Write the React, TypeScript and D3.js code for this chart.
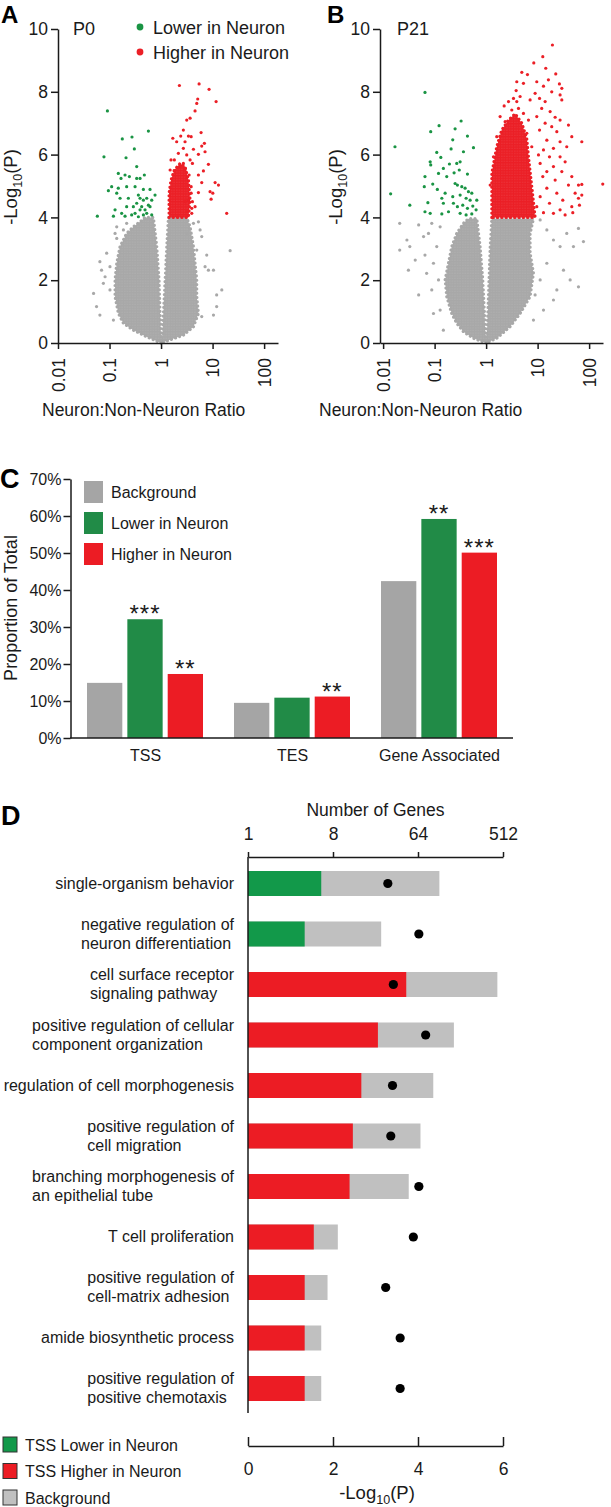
import React, { useEffect, useRef } from "react";
import * as d3 from "d3";

const FONT = "'Liberation Sans', Arial, Helvetica, sans-serif";

// ---------- Panels A / B : volcano plots ----------
const ratioTicks = [0.01, 0.1, 1, 10, 100];
const ratioTickLabels = ["0.01", "0.1", "1", "10", "100"];
const logPTicks = [0, 2, 4, 6, 8, 10];

// dense gray cloud outline (ratio, -log10 P)
const p0GrayCore: [number, number][] = [
  [1.0, 0], [0.527, 0.2], [0.29, 0.41], [0.186, 0.63], [0.149, 0.94], [0.128, 1.48], [0.128, 2.01],
  [0.138, 2.54], [0.16, 3.07], [0.215, 3.49], [0.29, 3.7], [0.391, 3.86], [0.489, 4.0], [0.71, 4.0],
  [0.824, 3.07], [0.914, 2.01], [0.956, 0.94], [1.0, 0.2], [1.06, 0.2], [1.11, 0.94], [1.2, 2.01],
  [1.29, 3.07], [1.39, 4.0], [3.15, 4.0], [3.66, 3.7], [4.25, 3.07], [4.57, 2.54], [4.93, 2.01],
  [4.93, 1.48], [5.31, 0.94], [4.25, 0.52], [2.72, 0.25], [1.5, 0.1],
];
const p0Gray: [number, number][] = [
  [0.065, 2.59], [0.056, 1.16], [0.049, 1.58], [0.065, 0.89], [0.088, 2.86], [0.102, 2.43], [0.07, 2.32],
  [0.119, 0.73], [0.128, 3.49], [0.138, 3.33], [0.186, 3.6], [0.2, 3.28], [0.102, 1.69], [0.076, 1.9],
  [0.082, 2.11], [5.72, 3.6], [6.16, 3.39], [4.93, 2.96], [7.7, 2.8], [8.3, 2.32], [10.4, 2.32],
  [21.9, 2.94], [15.1, 1.69], [12.0, 1.53], [12.0, 1.16], [10.4, 0.89], [6.16, 0.84], [7.15, 2.43],
  [4.25, 3.81], [5.31, 3.86], [3.15, 3.49], [0.138, 3.7], [0.215, 3.81],
];
const p0Green: [number, number][] = [
  [0.091, 7.39], [0.568, 6.75], [0.177, 6.5], [0.273, 6.56], [0.303, 6.18], [0.078, 5.93], [0.209, 5.9],
  [0.337, 5.62], [0.148, 5.4], [0.2, 5.35], [0.243, 5.3], [0.167, 5.24], [0.337, 5.24], [0.391, 5.24],
  [0.474, 5.35], [0.11, 4.98], [0.148, 4.93], [0.215, 4.98], [0.313, 4.98], [0.454, 4.89], [0.611, 4.89],
  [0.764, 4.71], [0.095, 4.85], [0.138, 4.77], [0.16, 4.61], [0.232, 4.61], [0.363, 4.71], [0.391, 4.61],
  [0.454, 4.55], [0.527, 4.61], [0.659, 4.55], [0.568, 4.39], [0.215, 4.34], [0.29, 4.34], [0.337, 4.45],
  [0.421, 4.34], [0.391, 4.24], [0.489, 4.24], [0.611, 4.34], [0.128, 4.24], [0.172, 4.13], [0.119, 4.04],
  [0.2, 4.04], [0.269, 4.08], [0.313, 4.13], [0.363, 4.02], [0.454, 4.08], [0.527, 4.13], [0.659, 4.08],
  [0.058, 4.04],
];
const p0RedCore: [number, number][] = [
  [1.43, 4.0], [1.43, 4.77], [1.56, 5.19], [1.81, 5.51], [2.34, 5.72], [2.92, 5.62], [3.4, 5.19],
  [3.66, 4.55], [3.4, 4.0],
];
const p0Red: [number, number][] = [
  [2.27, 8.2], [5.47, 8.25], [8.55, 8.08], [5.15, 7.77], [4.93, 7.63], [11.7, 7.69], [4.57, 7.39],
  [3.66, 7.16], [3.15, 7.1], [2.71, 6.78], [5.98, 6.7], [1.69, 6.52], [2.41, 6.59], [3.4, 6.59],
  [3.84, 6.57], [2.92, 6.41], [2.01, 6.41], [6.94, 6.36], [6.16, 6.27], [2.71, 6.2], [4.25, 6.17],
  [7.14, 6.09], [2.17, 6.04], [3.15, 5.99], [5.31, 6.01], [1.56, 5.83], [1.81, 5.83], [3.66, 5.83],
  [4.06, 5.72], [8.3, 5.69], [2.71, 5.72], [2.34, 5.62], [6.64, 5.48], [5.31, 5.35], [11.2, 5.11],
  [13.0, 5.03], [6.16, 5.11], [8.94, 4.82], [10.1, 4.77], [9.36, 4.58], [5.31, 4.79], [3.84, 4.77],
  [3.4, 4.55], [4.57, 4.34], [3.94, 4.29], [18.8, 4.13], [3.15, 4.18], [2.92, 4.5], [1.5, 5.51],
  [2.92, 5.51], [3.5, 5.35], [3.84, 4.98], [4.06, 4.5], [3.94, 4.13],
];

const p21GrayCore: [number, number][] = [
  [1.0, 0], [0.568, 0.15], [0.363, 0.36], [0.269, 0.63], [0.215, 0.94], [0.172, 1.48], [0.16, 2.01],
  [0.186, 2.54], [0.215, 3.07], [0.269, 3.49], [0.363, 3.81], [0.454, 3.96], [0.659, 3.96], [0.764, 3.07],
  [0.861, 2.01], [0.929, 0.94], [0.97, 0.2], [1.03, 0.2], [1.08, 0.94], [1.14, 2.01], [1.2, 3.07],
  [1.29, 3.96], [8.3, 3.96], [7.15, 3.49], [7.15, 2.86], [8.3, 2.22], [7.15, 1.48], [4.57, 0.94],
  [2.92, 0.52], [1.61, 0.15],
];
const p21Gray: [number, number][] = [
  [0.021, 3.81], [0.029, 3.28], [0.021, 2.96], [0.033, 3.07], [0.031, 2.32], [0.042, 2.64], [0.049, 3.76],
  [0.061, 3.39], [0.065, 2.8], [0.07, 2.22], [0.076, 3.49], [0.088, 1.69], [0.095, 2.54], [0.11, 3.07],
  [0.128, 1.05], [0.119, 2.01], [0.088, 3.81], [0.049, 1.53], [0.128, 3.7], [0.148, 0.41], [0.095, 0.94],
  [15.1, 3.6], [11.2, 3.92], [20.3, 3.28], [27.3, 3.07], [36.8, 3.49], [49.6, 3.07], [77.6, 3.23],
  [62.1, 3.65], [31.8, 2.32], [42.8, 2.01], [62.1, 1.79], [23.6, 1.69], [20.3, 1.37], [13.0, 1.05],
  [8.3, 0.73], [15.1, 2.54], [11.2, 2.01], [8.94, 1.53],
];
const p21Green: [number, number][] = [
  [0.065, 7.98], [0.017, 6.25], [0.014, 4.75], [0.033, 4.39], [0.084, 6.73], [0.122, 6.92], [0.327, 7.07],
  [0.25, 6.82], [0.225, 6.47], [0.434, 6.59], [0.11, 6.07], [0.132, 5.91], [0.209, 6.18], [0.363, 6.09],
  [0.568, 6.22], [0.082, 5.77], [0.084, 5.67], [0.148, 5.56], [0.194, 5.7], [0.269, 5.72], [0.313, 5.77],
  [0.119, 5.4], [0.172, 5.3], [0.239, 5.42], [0.301, 5.51], [0.434, 5.38], [0.065, 5.3], [0.063, 4.98],
  [0.092, 5.06], [0.113, 4.89], [0.25, 5.08], [0.277, 5.03], [0.337, 4.98], [0.391, 4.93], [0.454, 4.82],
  [0.527, 4.77], [0.16, 4.77], [0.138, 4.61], [0.225, 4.66], [0.313, 4.71], [0.409, 4.61], [0.489, 4.55],
  [0.659, 4.55], [0.074, 4.47], [0.148, 4.45], [0.232, 4.45], [0.277, 4.34], [0.352, 4.39], [0.434, 4.29],
  [0.551, 4.36], [0.639, 4.24], [0.065, 4.18], [0.082, 4.13], [0.138, 4.11], [0.186, 4.18], [0.313, 4.13],
  [0.409, 4.08], [0.527, 4.11],
];
const p21RedCore: [number, number][] = [
  [1.29, 4.0], [1.29, 5.4], [1.61, 6.25], [2.01, 6.78], [2.72, 7.1], [3.66, 7.3], [4.93, 7.0],
  [6.16, 6.5], [6.64, 5.93], [7.7, 4.98], [8.94, 4.0],
];
const p21Red: [number, number][] = [
  [19.4, 9.49], [12.6, 9.12], [8.43, 8.92], [4.93, 8.62], [6.35, 8.55], [14.4, 8.75], [22.5, 8.57],
  [3.94, 8.32], [5.31, 8.27], [9.63, 8.32], [13.0, 8.18], [16.2, 8.38], [26.5, 8.25], [29.5, 8.11],
  [27.3, 7.9], [29.5, 7.74], [3.83, 8.04], [4.57, 7.85], [8.94, 7.95], [10.9, 7.79], [14.0, 7.69],
  [18.8, 8.0], [7.15, 7.74], [12.0, 7.47], [17.5, 7.37], [9.63, 7.21], [21.9, 7.19], [27.3, 7.1],
  [39.7, 6.94], [14.0, 7.0], [18.8, 6.89], [10.9, 6.78], [23.6, 6.73], [46.1, 6.57], [72.1, 6.41],
  [15.1, 6.46], [27.3, 6.41], [20.3, 6.2], [36.8, 6.25], [13.0, 6.15], [10.4, 5.99], [17.0, 5.93],
  [27.3, 5.93], [34.2, 5.77], [11.2, 5.72], [20.3, 5.62], [15.1, 5.46], [29.5, 5.46], [46.1, 5.3],
  [12.6, 5.3], [21.9, 5.19], [39.7, 5.03], [62.1, 5.03], [72.1, 5.05], [184, 5.06], [15.1, 4.93],
  [23.6, 4.77], [53.5, 4.77], [72.1, 4.71], [11.2, 4.66], [30.8, 4.55], [17.0, 4.45], [62.1, 4.61],
  [9.63, 4.34], [27.3, 4.24], [46.1, 4.34], [64.9, 4.39], [20.3, 4.13], [13.0, 4.15], [34.2, 4.08],
  [48.2, 4.15], [1.2, 5.03], [2.24, 7.55], [3.15, 7.42], [2.72, 7.69], [3.4, 7.79], [4.25, 7.47],
  [5.31, 7.31], [6.64, 7.1], [1.87, 7.21], [2.34, 7.05], [6.16, 6.68], [7.7, 6.25], [1.61, 6.57],
  [3.94, 7.69], [1.39, 5.93],
];

// ---------- Panel C ----------
const regions = ["TSS", "TES", "Gene Associated"];
const seriesNames = ["Background", "Lower in Neuron", "Higher in Neuron"];
const backgroundPct = [14.9, 9.5, 42.4];
const lowerPct = [32.1, 10.9, 59.2];
const higherPct = [17.3, 11.2, 50.1];
const lowerStars = ["***", "", "**"];
const higherStars = ["**", "**", "***"];
const pctTicks = [0, 10, 20, 30, 40, 50, 60, 70];

// ---------- Panel D ----------
const goTerms: string[][] = [
  ["single-organism behavior"],
  ["negative regulation of", "neuron differentiation"],
  ["cell surface receptor", "signaling pathway"],
  ["positive regulation of cellular", "component organization"],
  ["regulation of cell morphogenesis"],
  ["positive regulation of", "cell migration"],
  ["branching morphogenesis of", "an epithelial tube"],
  ["T cell proliferation"],
  ["positive regulation of", "cell-matrix adhesion"],
  ["amide biosynthetic process"],
  ["positive regulation of", "positive chemotaxis"],
];
const tssDirection = ["lower", "lower", "higher", "higher", "higher", "higher", "higher", "higher", "higher", "higher", "higher"];
const tssGenes = [6, 4, 48, 24, 16, 13, 12, 5, 4, 4, 4];
const backgroundGenes = [108, 26, 446, 154, 93, 68, 51, 9, 7, 6, 6];
const negLog10P = [3.29, 4.02, 3.42, 4.18, 3.4, 3.36, 4.02, 3.89, 3.24, 3.58, 3.58];
const geneTicks = [1, 8, 64, 512];
const pTicks = [0, 2, 4, 6];
const legendD = ["TSS Lower in Neuron", "TSS Higher in Neuron", "Background"];

const SC_GRAY = "#a8a8a8";
const SC_GREEN = "#1a9444";
const SC_RED = "#eb1f26";
const C_GRAY = "#a5a5a5";
const C_GREEN = "#218b47";
const C_RED = "#ec1c24";
const D_GREEN = "#12994a";
const D_RED = "#ec1c24";
const D_GRAY = "#c0c0c0";
const INK = "#1a1a1a";

function styleAxis(g: any, fs: number) {
  g.attr("font-family", FONT).attr("font-size", fs);
  g.selectAll("path.domain").attr("stroke", INK).attr("stroke-width", 1.5);
  g.selectAll(".tick line").attr("stroke", INK).attr("stroke-width", 1.5);
  g.selectAll(".tick text").attr("fill", INK);
}

function logPTitle(sel: any, x: number, y: number, fs: number, rotate: boolean) {
  const t = sel.append("text").attr("font-family", FONT).attr("font-size", fs).attr("fill", INK)
    .attr("text-anchor", "middle");
  if (rotate) t.attr("transform", `translate(${x},${y}) rotate(-90)`);
  else t.attr("x", x).attr("y", y);
  t.append("tspan").text("-Log");
  t.append("tspan").attr("font-size", fs * 0.68).attr("dy", fs * 0.28).text("10");
  t.append("tspan").attr("dy", -fs * 0.28).text("(P)");
}

export default function App() {
  const ref = useRef<SVGSVGElement>(null);
  useEffect(() => {
    const svg = d3.select(ref.current);
    svg.selectAll("*").remove();
    svg.append("rect").attr("width", 611).attr("height", 1507).attr("fill", "#fff");

    // dotted textures for dense clouds
    const defs = svg.append("defs");
    [["dotGray", SC_GRAY], ["dotRed", SC_RED]].forEach(([id, col]) => {
      const pat = defs.append("pattern").attr("id", id).attr("patternUnits", "userSpaceOnUse")
        .attr("width", 2.6).attr("height", 2.6);
      pat.append("circle").attr("cx", 1.3).attr("cy", 1.3).attr("r", 1.55).attr("fill", col);
    });

    // ===== Panels A, B =====
    const yV = d3.scaleLinear().domain([0, 10]).range([343, 29]);
    const volcanoPanels = [
      { letter: "A", letterX: 1, title: "P0", titleX: 73, dom: [0.01, 186], rng: [58, 278], yTitleX: 17, xTitleX: 42,
        grayCore: p0GrayCore, gray: p0Gray, green: p0Green, redCore: p0RedCore, red: p0Red },
      { letter: "B", letterX: 327, title: "P21", titleX: 397, dom: [0.0087, 186], rng: [380, 603], yTitleX: 342, xTitleX: 319,
        grayCore: p21GrayCore, gray: p21Gray, green: p21Green, redCore: p21RedCore, red: p21Red },
    ];
    volcanoPanels.forEach((p) => {
      const x = d3.scaleLog().domain(p.dom).range(p.rng);
      const g = svg.append("g");
      const line = d3.line<[number, number]>().x((d) => x(d[0])).y((d) => yV(d[1])).curve(d3.curveLinearClosed);
      const core = (data: [number, number][], pat: string, col: string) =>
        g.append("path").attr("d", line(data)).attr("fill", `url(#${pat})`).attr("stroke", col)
          .attr("stroke-width", 3.2).attr("stroke-linecap", "round").attr("stroke-dasharray", "0.01 4.3")
          .attr("stroke-linejoin", "round");
      const dots = (data: [number, number][], col: string) =>
        g.append("g").selectAll("circle").data(data).join("circle")
          .attr("cx", (d) => x(d[0])).attr("cy", (d) => yV(d[1])).attr("r", 1.6).attr("fill", col);
      core(p.grayCore, "dotGray", SC_GRAY);
      dots(p.gray, SC_GRAY);
      dots(p.green, SC_GREEN);
      core(p.redCore, "dotRed", SC_RED);
      dots(p.red, SC_RED);

      const ya = g.append("g").attr("transform", `translate(${p.rng[0]},0)`)
        .call(d3.axisLeft(yV).tickValues(logPTicks).tickSize(7).tickPadding(3).tickSizeOuter(0));
      styleAxis(ya, 17.5);
      const xa = g.append("g").attr("transform", `translate(0,343)`)
        .call(d3.axisBottom(x).tickValues(ratioTicks).tickFormat((_d, i) => ratioTickLabels[i]).tickSize(6).tickSizeOuter(0));
      styleAxis(xa, 17.5);
      xa.selectAll(".tick text").attr("transform", "rotate(-90)").attr("text-anchor", "end")
        .attr("x", -15).attr("y", 0).attr("dy", "0.35em");

      g.append("text").attr("x", p.letterX).attr("y", 23).attr("font-family", FONT).attr("font-weight", "bold")
        .attr("font-size", 24).attr("fill", "#000").text(p.letter);
      g.append("text").attr("x", p.titleX).attr("y", 35).attr("font-family", FONT).attr("font-size", 18)
        .attr("fill", INK).text(p.title);
      logPTitle(g, p.yTitleX, 187, 18.5, true);
      g.append("text").attr("x", p.xTitleX).attr("y", 416).attr("font-family", FONT).attr("font-size", 17.5)
        .attr("fill", INK).text("Neuron:Non-Neuron Ratio");
    });
    // legend in A
    const legA = [{ c: SC_GREEN, t: "Lower in Neuron", y: 27 }, { c: SC_RED, t: "Higher in Neuron", y: 52 }];
    legA.forEach((l) => {
      svg.append("circle").attr("cx", 140).attr("cy", l.y).attr("r", 3.4).attr("fill", l.c);
      svg.append("text").attr("x", 153).attr("y", l.y + 6.5).attr("font-family", FONT).attr("font-size", 18)
        .attr("fill", INK).text(l.t);
    });

    // ===== Panel C =====
    const gC = svg.append("g");
    const xC = d3.scaleBand().domain(regions).range([72, 513]);
    const xIn = d3.scaleBand().domain(seriesNames).range([15, 131]).paddingInner(0.125);
    const yC = d3.scaleLinear().domain([0, 70]).range([738, 479]);
    const seriesVals = [backgroundPct, lowerPct, higherPct];
    const seriesCols = [C_GRAY, C_GREEN, C_RED];
    const seriesStars = [["", "", ""], lowerStars, higherStars];
    seriesNames.forEach((s, si) => {
      regions.forEach((r, ri) => {
        const v = seriesVals[si][ri];
        const bx = (xC(r) as number) + (xIn(s) as number);
        gC.append("rect").attr("x", bx).attr("y", yC(v)).attr("width", xIn.bandwidth())
          .attr("height", yC(0) - yC(v)).attr("fill", seriesCols[si]);
        const st = seriesStars[si][ri];
        if (st) {
          gC.append("text").attr("x", bx + xIn.bandwidth() / 2).attr("y", yC(v) + 3).attr("text-anchor", "middle")
            .attr("font-family", FONT).attr("font-size", 24).attr("letter-spacing", 1).attr("fill", INK).text(st);
        }
      });
    });
    const yCa = gC.append("g").attr("transform", "translate(70.5,0)")
      .call(d3.axisLeft(yC).tickValues(pctTicks).tickFormat((d) => `${d}%`).tickSize(7).tickPadding(2).tickSizeOuter(0));
    styleAxis(yCa, 16);
    gC.append("line").attr("x1", 70).attr("x2", 513).attr("y1", 738).attr("y2", 738).attr("stroke", INK).attr("stroke-width", 1.5);
    regions.forEach((r) => {
      gC.append("text").attr("x", (xC(r) as number) + xC.bandwidth() / 2).attr("y", 761).attr("text-anchor", "middle")
        .attr("font-family", FONT).attr("font-size", 16).attr("fill", INK).text(r);
    });
    gC.append("text").attr("transform", "translate(17,608) rotate(-90)").attr("text-anchor", "middle")
      .attr("font-family", FONT).attr("font-size", 18).attr("fill", INK).text("Proportion of Total");
    gC.append("text").attr("x", 0).attr("y", 488).attr("font-family", FONT).attr("font-weight", "bold")
      .attr("font-size", 27).attr("fill", "#000").text("C");
    seriesNames.forEach((s, si) => {
      const ly = 481 + si * 31;
      gC.append("rect").attr("x", 84).attr("y", ly).attr("width", 19).attr("height", 22).attr("fill", seriesCols[si]);
      gC.append("text").attr("x", 111).attr("y", ly + 17).attr("font-family", FONT).attr("font-size", 16)
        .attr("fill", INK).text(s);
    });

    // ===== Panel D =====
    const gD = svg.append("g");
    const xG = d3.scaleLog().base(2).domain([1, 512]).range([248, 503]);
    const xP = d3.scaleLinear().domain([0, 6]).range([248, 503]);
    const rowY = d3.scalePoint<number>().domain(goTerms.map((_t, i) => i)).range([883.5, 1388.5]);
    const barH = 25;
    goTerms.forEach((lines, i) => {
      const cy = rowY(i) as number;
      gD.append("rect").attr("x", xG(1)).attr("y", cy - barH / 2).attr("width", xG(backgroundGenes[i]) - xG(1))
        .attr("height", barH).attr("fill", D_GRAY);
      gD.append("rect").attr("x", xG(1)).attr("y", cy - barH / 2).attr("width", xG(tssGenes[i]) - xG(1))
        .attr("height", barH).attr("fill", tssDirection[i] === "lower" ? D_GREEN : D_RED);
      gD.append("circle").attr("cx", xP(negLog10P[i])).attr("cy", cy).attr("r", 4.6).attr("fill", "#000");
      if (lines.length === 1) {
        gD.append("text").attr("x", 234).attr("y", cy + 5).attr("text-anchor", "end").attr("font-family", FONT)
          .attr("font-size", 16).attr("fill", INK).text(lines[0]);
      } else {
        const t1 = gD.append("text").attr("x", 234).attr("y", cy - 4.5).attr("text-anchor", "end")
          .attr("font-family", FONT).attr("font-size", 16).attr("fill", INK).text(lines[0]);
        const w = (t1.node() as SVGTextElement).getComputedTextLength();
        gD.append("text").attr("x", 234 - w).attr("y", cy + 14.5).attr("font-family", FONT)
          .attr("font-size", 16).attr("fill", INK).text(lines[1]);
      }
    });
    gD.append("line").attr("x1", 248).attr("x2", 248).attr("y1", 857).attr("y2", 1413).attr("stroke", INK).attr("stroke-width", 1.5);
    const topAx = gD.append("g").attr("transform", "translate(0,857)")
      .call(d3.axisTop(xG).tickValues(geneTicks).tickFormat((d) => String(d)).tickSize(5).tickPadding(12).tickSizeOuter(0));
    styleAxis(topAx, 17.5);
    gD.append("text").attr("x", 375.5).attr("y", 816).attr("text-anchor", "middle").attr("font-family", FONT)
      .attr("font-size", 17.5).attr("fill", INK).text("Number of Genes");
    const botAx = gD.append("g").attr("transform", "translate(0,1446)")
      .call(d3.axisBottom(xP).tickValues(pTicks).tickFormat(d3.format("d")).tickSize(-9).tickPadding(17).tickSizeOuter(0));
    styleAxis(botAx, 17.5);
    logPTitle(gD, 377, 1499, 18.5, false);
    gD.append("text").attr("x", 1).attr("y", 825).attr("font-family", FONT).attr("font-weight", "bold")
      .attr("font-size", 27).attr("fill", "#000").text("D");
    const legCols = [D_GREEN, D_RED, D_GRAY];
    legendD.forEach((l, i) => {
      const ly = 1437 + i * 26.5;
      gD.append("rect").attr("x", 3).attr("y", ly).attr("width", 14).attr("height", 15).attr("fill", legCols[i])
        .attr("stroke", "#333").attr("stroke-width", 1);
      gD.append("text").attr("x", 25).attr("y", ly + 13.5).attr("font-family", FONT).attr("font-size", 16)
        .attr("fill", INK).text(l);
    });
  }, []);
  return (
    <svg ref={ref} width={611} height={1507}
      style={{ position: "absolute", left: 0, top: 0, display: "block" }} />
  );
}
